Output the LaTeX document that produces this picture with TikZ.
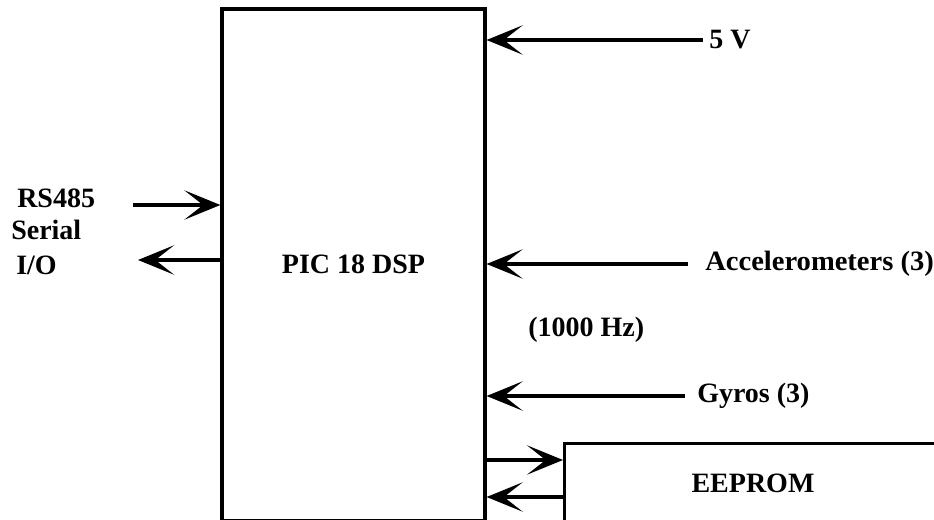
\documentclass[tikz,border=0pt]{standalone}
\usepackage{fontspec}
\setmainfont{Liberation Serif}
\usetikzlibrary{arrows.meta}
\tikzset{
  lbl/.style={font=\fontsize{21}{24}\selectfont\bfseries, inner sep=0pt},
  blk/.style={draw, line width=2.4pt, rectangle, inner sep=0pt, font=\fontsize{21}{24}\selectfont\bfseries},
  arr/.style={line width=2.4pt, -{Stealth[length=27pt, width=22pt, inset=14pt]}}
}
\begin{document}
\begin{tikzpicture}[x=0.75pt, y=-0.75pt]
\useasboundingbox (0,0) rectangle (934,520);
% main block
\node[blk, minimum width=197.25pt, minimum height=383.6pt] (pic) at (353.5,264.75) {PIC 18 DSP};
% EEPROM block
\node[blk, minimum width=282.75pt, minimum height=59.25pt, anchor=north west] (ee) at (563,442) {};
\node[lbl] (eet) at (753,483) {EEPROM};
% labels
\node[lbl, anchor=west] (v5) at (709,40) {5 V};
\node[lbl, anchor=west, xscale=1.02] (acc) at (705,264) {Accelerometers (3)};
\node[lbl, anchor=west] (hz) at (528,330) {(1000 Hz)};
\node[lbl, anchor=west] (gy) at (697,396) {Gyros (3)};
\node[lbl, anchor=west] (rs) at (17,198) {RS485};
\node[lbl, anchor=west] (ser) at (11,230) {Serial};
\node[lbl, anchor=west] (io) at (16,265) {I/O};
% free ends
\coordinate (rsin) at (133,205);
\coordinate (rsout) at (138,260);
\coordinate (e1) at (485,460);
\coordinate (e2) at (485,497);
% connectors
\draw[arr] ([xshift=-4.5pt]v5.west) -- (pic.east |- v5.west);
\draw[arr] ([xshift=-13pt]acc.west) -- (pic.east |- acc.west);
\draw[arr] ([xshift=-9pt]gy.west) -- (pic.east |- gy.west);
\draw[arr] (rsin) -- (pic.west |- rsin);
\draw[arr] (pic.west |- rsout) -- (rsout);
\draw[arr] (pic.east |- e1) -- (ee.west |- e1);
\draw[arr] (ee.west |- e2) -- (pic.east |- e2);
\end{tikzpicture}
\end{document}
